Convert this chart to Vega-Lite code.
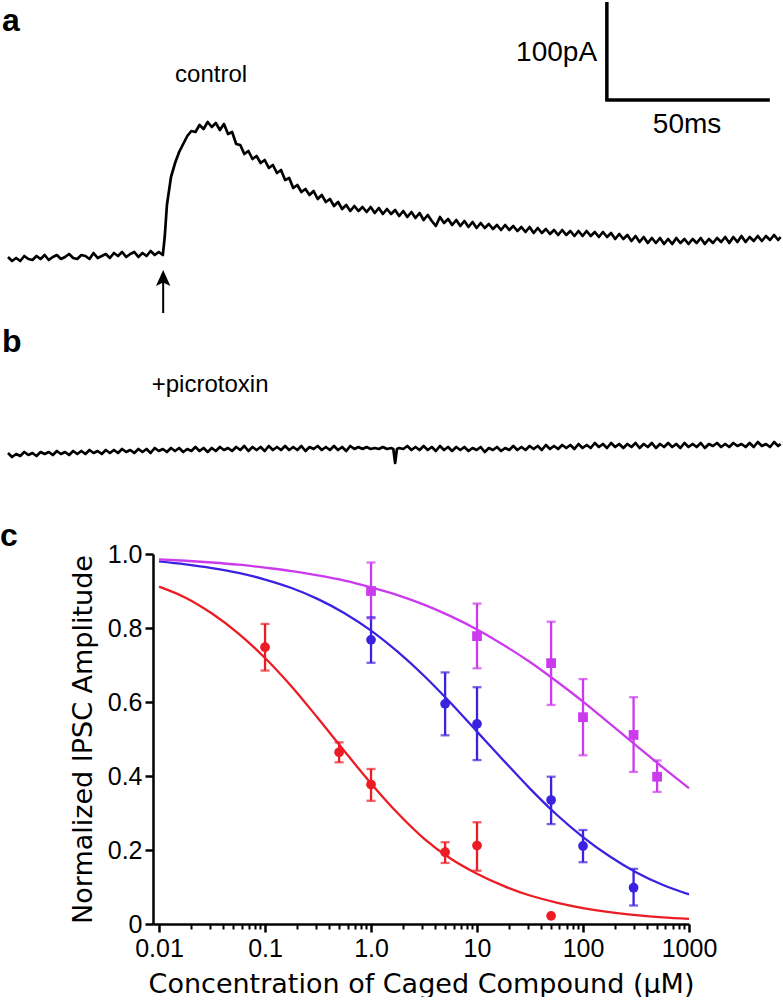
{
  "$schema": "https://vega.github.io/schema/vega-lite/v6.json",
  "padding": 0,
  "spacing": 0,
  "columns": 1,
  "config": {"view": {"stroke": null}, "font": "Liberation Sans", "text": {"font": "Liberation Sans", "color": "black"}},
  "datasets": {
    "traceA": [{"t":0,"v":1},{"t":1.25,"v":-3},{"t":2.5,"v":0},{"t":3.75,"v":-3},{"t":5,"v":2},{"t":6.25,"v":-1},{"t":7.5,"v":-2},{"t":8.75,"v":2},{"t":10,"v":-1},{"t":11.25,"v":3},{"t":12.5,"v":-2},{"t":13.75,"v":1},{"t":15,"v":3},{"t":16.25,"v":-1},{"t":17.5,"v":1},{"t":18.75,"v":4},{"t":20,"v":0},{"t":21.25,"v":-1},{"t":22.5,"v":3},{"t":23.75,"v":2},{"t":25,"v":-1},{"t":26.25,"v":5},{"t":27.5,"v":0},{"t":28.75,"v":2},{"t":30,"v":4},{"t":31.25,"v":0},{"t":32.5,"v":5},{"t":33.75,"v":2},{"t":35,"v":6},{"t":36.25,"v":1},{"t":37.5,"v":4},{"t":38.75,"v":6},{"t":40,"v":1},{"t":41.25,"v":5},{"t":42.5,"v":2},{"t":43.75,"v":7},{"t":45,"v":3},{"t":46.25,"v":6},{"t":47.5,"v":3},{"t":48.1,"v":22},{"t":48.75,"v":53},{"t":50,"v":81},{"t":51.25,"v":95},{"t":52.5,"v":106},{"t":53.75,"v":114},{"t":55,"v":122},{"t":56.25,"v":127},{"t":57.5,"v":126},{"t":58.75,"v":133},{"t":60,"v":129},{"t":61.25,"v":136},{"t":62.5,"v":131},{"t":63.75,"v":135},{"t":65,"v":128},{"t":66.25,"v":134},{"t":67.5,"v":124},{"t":68.75,"v":126},{"t":70,"v":114},{"t":71.25,"v":113},{"t":72.5,"v":104},{"t":73.75,"v":107},{"t":75,"v":99},{"t":76.25,"v":102},{"t":77.5,"v":95},{"t":78.75,"v":98},{"t":80,"v":90},{"t":81.25,"v":93},{"t":82.5,"v":85},{"t":83.75,"v":88},{"t":85,"v":78},{"t":86.25,"v":80},{"t":87.5,"v":70},{"t":88.75,"v":73},{"t":90,"v":66},{"t":91.25,"v":69},{"t":92.5,"v":63},{"t":93.75,"v":67},{"t":95,"v":59},{"t":96.25,"v":63},{"t":97.5,"v":56},{"t":98.75,"v":59},{"t":100,"v":52},{"t":101.25,"v":56},{"t":102.5,"v":49},{"t":103.75,"v":53},{"t":105,"v":47},{"t":106.25,"v":52},{"t":107.5,"v":47},{"t":108.75,"v":51},{"t":110,"v":46},{"t":111.25,"v":51},{"t":112.5,"v":45},{"t":113.75,"v":50},{"t":115,"v":44},{"t":116.25,"v":49},{"t":117.5,"v":44},{"t":118.75,"v":48},{"t":120,"v":42},{"t":121.25,"v":47},{"t":122.5,"v":41},{"t":123.75,"v":46},{"t":125,"v":40},{"t":126.25,"v":45},{"t":127.5,"v":38},{"t":128.75,"v":43},{"t":130,"v":37},{"t":131.25,"v":32},{"t":132.5,"v":41},{"t":133.75,"v":35},{"t":135,"v":39},{"t":136.25,"v":33},{"t":137.5,"v":38},{"t":138.75,"v":32},{"t":140,"v":37},{"t":141.25,"v":31},{"t":142.5,"v":36},{"t":143.75,"v":30},{"t":145,"v":35},{"t":146.25,"v":30},{"t":147.5,"v":34},{"t":148.75,"v":29},{"t":150,"v":33},{"t":151.25,"v":28},{"t":152.5,"v":33},{"t":153.75,"v":28},{"t":155,"v":32},{"t":156.25,"v":27},{"t":157.5,"v":31},{"t":158.75,"v":26},{"t":160,"v":31},{"t":161.25,"v":25},{"t":162.5,"v":30},{"t":163.75,"v":25},{"t":165,"v":29},{"t":166.25,"v":24},{"t":167.5,"v":28},{"t":168.75,"v":23},{"t":170,"v":28},{"t":171.25,"v":23},{"t":172.5,"v":27},{"t":173.75,"v":22},{"t":175,"v":27},{"t":176.25,"v":22},{"t":177.5,"v":27},{"t":178.75,"v":22},{"t":180,"v":26},{"t":181.25,"v":21},{"t":182.5,"v":26},{"t":183.75,"v":21},{"t":185,"v":25},{"t":186.25,"v":19},{"t":187.5,"v":24},{"t":188.75,"v":19},{"t":190,"v":23},{"t":191.25,"v":17},{"t":192.5,"v":22},{"t":193.75,"v":16},{"t":195,"v":21},{"t":196.25,"v":15},{"t":197.5,"v":20},{"t":198.75,"v":15},{"t":200,"v":20},{"t":201.25,"v":14},{"t":202.5,"v":19},{"t":203.75,"v":14},{"t":205,"v":20},{"t":206.25,"v":15},{"t":207.5,"v":19},{"t":208.75,"v":14},{"t":210,"v":19},{"t":211.25,"v":15},{"t":212.5,"v":20},{"t":213.75,"v":14},{"t":215,"v":19},{"t":216.25,"v":15},{"t":217.5,"v":20},{"t":218.75,"v":16},{"t":220,"v":21},{"t":221.25,"v":15},{"t":222.5,"v":21},{"t":223.75,"v":16},{"t":225,"v":22},{"t":226.25,"v":16},{"t":227.5,"v":21},{"t":228.75,"v":17},{"t":230,"v":22},{"t":231.25,"v":17},{"t":232.5,"v":22},{"t":233.75,"v":18},{"t":235,"v":23},{"t":236.25,"v":18},{"t":237,"v":21}],
    "traceB": [{"t":0,"v":-1},{"t":1.25,"v":-5},{"t":2.5,"v":-2},{"t":3.75,"v":-4},{"t":5,"v":0},{"t":6.25,"v":-3},{"t":7.5,"v":-1},{"t":8.75,"v":-4},{"t":10,"v":0},{"t":11.25,"v":-2},{"t":12.5,"v":0},{"t":13.75,"v":-3},{"t":15,"v":1},{"t":16.25,"v":-2},{"t":17.5,"v":0},{"t":18.75,"v":-3},{"t":20,"v":1},{"t":21.25,"v":-2},{"t":22.5,"v":1},{"t":23.75,"v":-2},{"t":25,"v":2},{"t":26.25,"v":-1},{"t":27.5,"v":1},{"t":28.75,"v":-2},{"t":30,"v":2},{"t":31.25,"v":-1},{"t":32.5,"v":2},{"t":33.75,"v":-1},{"t":35,"v":3},{"t":36.25,"v":0},{"t":37.5,"v":2},{"t":38.75,"v":-1},{"t":40,"v":3},{"t":41.25,"v":0},{"t":42.5,"v":3},{"t":43.75,"v":-1},{"t":45,"v":4},{"t":46.25,"v":1},{"t":47.5,"v":3},{"t":48.75,"v":0},{"t":50,"v":4},{"t":51.25,"v":1},{"t":52.5,"v":4},{"t":53.75,"v":0},{"t":55,"v":3},{"t":56.25,"v":1},{"t":57.5,"v":5},{"t":58.75,"v":1},{"t":60,"v":4},{"t":61.25,"v":0},{"t":62.5,"v":4},{"t":63.75,"v":1},{"t":65,"v":5},{"t":66.25,"v":2},{"t":67.5,"v":4},{"t":68.75,"v":1},{"t":70,"v":5},{"t":71.25,"v":2},{"t":72.5,"v":6},{"t":73.75,"v":1},{"t":75,"v":5},{"t":76.25,"v":2},{"t":77.5,"v":5},{"t":78.75,"v":1},{"t":80,"v":6},{"t":81.25,"v":2},{"t":82.5,"v":5},{"t":83.75,"v":2},{"t":85,"v":6},{"t":86.25,"v":2},{"t":87.5,"v":5},{"t":88.75,"v":2},{"t":90,"v":6},{"t":91.25,"v":1},{"t":92.5,"v":5},{"t":93.75,"v":3},{"t":95,"v":6},{"t":96.25,"v":2},{"t":97.5,"v":5},{"t":98.75,"v":2},{"t":100,"v":6},{"t":101.25,"v":2},{"t":102.5,"v":5},{"t":103.75,"v":1},{"t":105,"v":6},{"t":106.25,"v":3},{"t":107.5,"v":5},{"t":108.75,"v":3},{"t":110,"v":5},{"t":111.25,"v":3},{"t":112.5,"v":4},{"t":113.75,"v":3},{"t":115,"v":5},{"t":116.25,"v":3},{"t":117.5,"v":4},{"t":118.2,"v":3},{"t":118.75,"v":-11},{"t":119.3,"v":3},{"t":120,"v":4},{"t":121.25,"v":3},{"t":122.5,"v":6},{"t":123.75,"v":2},{"t":125,"v":5},{"t":126.25,"v":2},{"t":127.5,"v":6},{"t":128.75,"v":2},{"t":130,"v":5},{"t":131.25,"v":1},{"t":132.5,"v":6},{"t":133.75,"v":2},{"t":135,"v":5},{"t":136.25,"v":1},{"t":137.5,"v":5},{"t":138.75,"v":2},{"t":140,"v":5},{"t":141.25,"v":1},{"t":142.5,"v":4},{"t":143.75,"v":2},{"t":145,"v":5},{"t":146.25,"v":0},{"t":147.5,"v":4},{"t":148.75,"v":2},{"t":150,"v":5},{"t":151.25,"v":1},{"t":152.5,"v":4},{"t":153.75,"v":2},{"t":155,"v":6},{"t":156.25,"v":2},{"t":157.5,"v":5},{"t":158.75,"v":2},{"t":160,"v":6},{"t":161.25,"v":3},{"t":162.5,"v":6},{"t":163.75,"v":2},{"t":165,"v":7},{"t":166.25,"v":3},{"t":167.5,"v":6},{"t":168.75,"v":3},{"t":170,"v":7},{"t":171.25,"v":4},{"t":172.5,"v":7},{"t":173.75,"v":3},{"t":175,"v":8},{"t":176.25,"v":4},{"t":177.5,"v":7},{"t":178.75,"v":4},{"t":180,"v":9},{"t":181.25,"v":5},{"t":182.5,"v":8},{"t":183.75,"v":4},{"t":185,"v":9},{"t":186.25,"v":5},{"t":187.5,"v":8},{"t":188.75,"v":4},{"t":190,"v":8},{"t":191.25,"v":5},{"t":192.5,"v":9},{"t":193.75,"v":4},{"t":195,"v":8},{"t":196.25,"v":5},{"t":197.5,"v":9},{"t":198.75,"v":4},{"t":200,"v":8},{"t":201.25,"v":5},{"t":202.5,"v":9},{"t":203.75,"v":5},{"t":205,"v":8},{"t":206.25,"v":4},{"t":207.5,"v":9},{"t":208.75,"v":5},{"t":210,"v":8},{"t":211.25,"v":5},{"t":212.5,"v":9},{"t":213.75,"v":4},{"t":215,"v":8},{"t":216.25,"v":6},{"t":217.5,"v":9},{"t":218.75,"v":5},{"t":220,"v":8},{"t":221.25,"v":5},{"t":222.5,"v":9},{"t":223.75,"v":6},{"t":225,"v":8},{"t":226.25,"v":5},{"t":227.5,"v":9},{"t":228.75,"v":5},{"t":230,"v":10},{"t":231.25,"v":6},{"t":232.5,"v":8},{"t":233.75,"v":5},{"t":235,"v":10},{"t":236.25,"v":6},{"t":237,"v":8}],
    "curves": [
      {"s":"red","conc":0.01,"val":0.912},{"s":"red","conc":0.0178,"val":0.882},{"s":"red","conc":0.0316,"val":0.839},{"s":"red","conc":0.0562,"val":0.785},{"s":"red","conc":0.1,"val":0.719},{"s":"red","conc":0.178,"val":0.642},{"s":"red","conc":0.316,"val":0.556},{"s":"red","conc":0.562,"val":0.467},{"s":"red","conc":1,"val":0.38},{"s":"red","conc":1.78,"val":0.3},{"s":"red","conc":3.16,"val":0.231},{"s":"red","conc":5.62,"val":0.177},{"s":"red","conc":10,"val":0.136},{"s":"red","conc":17.8,"val":0.103},{"s":"red","conc":31.6,"val":0.077},{"s":"red","conc":56.2,"val":0.058},{"s":"red","conc":100,"val":0.043},{"s":"red","conc":178,"val":0.032},{"s":"red","conc":316,"val":0.024},{"s":"red","conc":562,"val":0.018},{"s":"red","conc":1000,"val":0.014},
      {"s":"blue","conc":0.01,"val":0.98},{"s":"blue","conc":0.0178,"val":0.972},{"s":"blue","conc":0.0316,"val":0.962},{"s":"blue","conc":0.0562,"val":0.949},{"s":"blue","conc":0.1,"val":0.931},{"s":"blue","conc":0.178,"val":0.908},{"s":"blue","conc":0.316,"val":0.878},{"s":"blue","conc":0.562,"val":0.84},{"s":"blue","conc":1,"val":0.793},{"s":"blue","conc":1.78,"val":0.736},{"s":"blue","conc":3.16,"val":0.671},{"s":"blue","conc":5.62,"val":0.598},{"s":"blue","conc":10,"val":0.52},{"s":"blue","conc":17.8,"val":0.442},{"s":"blue","conc":31.6,"val":0.366},{"s":"blue","conc":56.2,"val":0.296},{"s":"blue","conc":100,"val":0.235},{"s":"blue","conc":178,"val":0.183},{"s":"blue","conc":316,"val":0.14},{"s":"blue","conc":562,"val":0.106},{"s":"blue","conc":1000,"val":0.08},
      {"s":"mag","conc":0.01,"val":0.9855},{"s":"mag","conc":0.0178,"val":0.9817},{"s":"mag","conc":0.0316,"val":0.977},{"s":"mag","conc":0.0562,"val":0.971},{"s":"mag","conc":0.1,"val":0.963},{"s":"mag","conc":0.178,"val":0.954},{"s":"mag","conc":0.316,"val":0.942},{"s":"mag","conc":0.562,"val":0.928},{"s":"mag","conc":1,"val":0.91},{"s":"mag","conc":1.78,"val":0.889},{"s":"mag","conc":3.16,"val":0.863},{"s":"mag","conc":5.62,"val":0.832},{"s":"mag","conc":10,"val":0.796},{"s":"mag","conc":17.8,"val":0.754},{"s":"mag","conc":31.6,"val":0.708},{"s":"mag","conc":56.2,"val":0.656},{"s":"mag","conc":100,"val":0.601},{"s":"mag","conc":178,"val":0.542},{"s":"mag","conc":316,"val":0.483},{"s":"mag","conc":562,"val":0.424},{"s":"mag","conc":1000,"val":0.367}
    ],
    "pts": [
      {"s":"red","conc":0.1,"val":0.748,"lo":0.685,"hi":0.811},
      {"s":"red","conc":0.5,"val":0.464,"lo":0.437,"hi":0.491},
      {"s":"red","conc":1,"val":0.377,"lo":0.333,"hi":0.419},
      {"s":"red","conc":5,"val":0.194,"lo":0.165,"hi":0.221},
      {"s":"red","conc":10,"val":0.212,"lo":0.144,"hi":0.275},
      {"s":"red","conc":50,"val":0.022,"lo":null,"hi":null},
      {"s":"blue","conc":1,"val":0.768,"lo":0.706,"hi":0.829},
      {"s":"blue","conc":5,"val":0.595,"lo":0.51,"hi":0.68},
      {"s":"blue","conc":10,"val":0.541,"lo":0.443,"hi":0.64},
      {"s":"blue","conc":50,"val":0.335,"lo":0.27,"hi":0.398},
      {"s":"blue","conc":100,"val":0.211,"lo":0.167,"hi":0.254},
      {"s":"blue","conc":300,"val":0.098,"lo":0.05,"hi":0.149},
      {"s":"mag","conc":1,"val":0.9,"lo":0.826,"hi":0.977},
      {"s":"mag","conc":10,"val":0.778,"lo":0.691,"hi":0.866},
      {"s":"mag","conc":50,"val":0.705,"lo":0.592,"hi":0.817},
      {"s":"mag","conc":100,"val":0.559,"lo":0.456,"hi":0.662},
      {"s":"mag","conc":300,"val":0.511,"lo":0.411,"hi":0.613},
      {"s":"mag","conc":500,"val":0.398,"lo":0.357,"hi":0.442}
    ]
  },
  "concat": [
    {
      "width": 630,
      "height": 320,
      "encoding": {
        "x": {"field": "t", "type": "quantitative", "scale": {"domain": [44.48, 237.73], "nice": false, "zero": false}, "axis": null},
        "y": {"field": "v", "type": "quantitative", "scale": {"domain": [-62, 258], "nice": false, "zero": false}, "axis": null}
      },
      "layer": [
        {"data": {"name": "traceA"}, "mark": {"type": "line", "color": "black", "strokeWidth": 2.7, "strokeJoin": "round"}},
        {"data": {"values": [{"t": 183.7, "v": 256, "v2": 158}]}, "mark": {"type": "rule", "color": "black", "strokeWidth": 3.5, "strokeCap": "butt"}, "encoding": {"y2": {"field": "v2"}}},
        {"data": {"values": [{"t": 183.2, "t2": 233.7, "v": 158}]}, "mark": {"type": "rule", "color": "black", "strokeWidth": 3.5, "strokeCap": "butt"}, "encoding": {"x2": {"field": "t2"}}},
        {"data": {"values": [{"t": 47.6, "v": -55, "v2": -18}]}, "mark": {"type": "rule", "color": "black", "strokeWidth": 2}, "encoding": {"y2": {"field": "v2"}}},
        {"data": {"values": [{"t": 47.6, "v": -20}]}, "mark": {"type": "point", "shape": "M0,-1L0.9,1L0,0.55L-0.9,1Z", "filled": true, "color": "black", "opacity": 1, "size": 256, "strokeWidth": 0}},
        {"data": {"values": [{"t": -1.84, "v": 227, "txt": "a"}]}, "mark": {"type": "text", "fontWeight": "bold", "fontSize": 32, "align": "left", "baseline": "alphabetic"}, "encoding": {"text": {"field": "txt"}}},
        {"data": {"values": [{"t": 62.3, "v": 183, "txt": "control"}]}, "mark": {"type": "text", "fontSize": 24, "align": "center", "baseline": "middle"}, "encoding": {"text": {"field": "txt"}}},
        {"data": {"values": [{"t": 208.3, "v": 133, "txt": "50ms"}]}, "mark": {"type": "text", "fontSize": 28, "align": "center", "baseline": "middle"}, "encoding": {"text": {"field": "txt"}}},
        {"data": {"values": [{"t": 180.7, "v": 205, "txt": "100pA"}]}, "mark": {"type": "text", "fontSize": 28, "align": "right", "baseline": "middle"}, "encoding": {"text": {"field": "txt"}}}
      ]
    },
    {
      "width": 630,
      "height": 200,
      "encoding": {
        "x": {"field": "t", "type": "quantitative", "scale": {"domain": [44.48, 237.73], "nice": false, "zero": false}, "axis": null},
        "y": {"field": "v", "type": "quantitative", "scale": {"domain": [-68, 132], "nice": false, "zero": false}, "axis": null}
      },
      "layer": [
        {"data": {"name": "traceB"}, "mark": {"type": "line", "color": "black", "strokeWidth": 2.7, "strokeJoin": "round"}},
        {"data": {"values": [{"t": -1.84, "v": 100, "txt": "b"}]}, "mark": {"type": "text", "fontWeight": "bold", "fontSize": 32, "align": "left", "baseline": "alphabetic"}, "encoding": {"text": {"field": "txt"}}},
        {"data": {"values": [{"t": 62, "v": 67, "txt": "+picrotoxin"}]}, "mark": {"type": "text", "fontSize": 24, "align": "center", "baseline": "middle"}, "encoding": {"text": {"field": "txt"}}}
      ]
    },
    {
      "width": 536,
      "height": 370,
      "resolve": {"axis": {"x": "independent"}},
      "layer": [
        {
          "data": {"name": "curves"},
          "mark": {"type": "line", "strokeWidth": 2.3, "interpolate": "monotone"},
          "encoding": {
            "x": {"field": "conc", "type": "quantitative", "scale": {"type": "log", "domain": [0.00877, 1000], "nice": false},
                  "axis": {"values": [0.01, 0.1, 1, 10, 100, 1000], "labelExpr": "datum.value < 0.05 ? '0.01' : datum.value < 0.5 ? '0.1' : datum.value < 5 ? '1.0' : format(datum.value, 'd')",
                           "labelFont": "Liberation Sans", "labelFontSize": 25, "labelColor": "black", "labelPadding": 4, "labelFlush": false, "labelOverlap": false,
                           "tickSize": 8, "tickWidth": 2.5, "tickColor": "black", "domainColor": "black", "domainWidth": 2.5, "grid": false,
                           "title": "Concentration of Caged Compound (μM)", "titleFont": "DejaVu Sans", "titleFontSize": 27, "titleFontWeight": "normal", "titleColor": "black", "titlePadding": 10}},
            "y": {"field": "val", "type": "quantitative", "scale": {"domain": [0, 1], "nice": false, "zero": false},
                  "axis": {"values": [0, 0.2, 0.4, 0.6, 0.8, 1], "labelExpr": "datum.value == 0 ? '0' : format(datum.value, '.1f')", "labelFont": "Liberation Sans", "labelFontSize": 25, "labelColor": "black", "labelPadding": 3, "labelFlush": false, "labelOverlap": false, "tickSize": 8, "tickWidth": 2.5, "tickColor": "black", "domainColor": "black", "domainWidth": 2.5, "grid": false, "title": "Normalized IPSC Amplitude", "titleFont": "DejaVu Sans", "titleFontSize": 27, "titleFontWeight": "normal", "titleColor": "black", "titlePadding": 10}},
            "color": {"field": "s", "type": "nominal", "scale": {"domain": ["red", "blue", "mag"], "range": ["#EC1C24", "#3A22E0", "#CC3AEE"]}, "legend": null}
          }
        },
        {
          "data": {"name": "pts"},
          "transform": [{"filter": "datum.lo != null"}],
          "mark": {"type": "rule", "strokeWidth": 2.3},
          "encoding": {
            "x": {"field": "conc", "type": "quantitative", "scale": {"type": "log", "domain": [0.00877, 1000], "nice": false},
                  "axis": {"orient": "bottom", "values": [0.02,0.03,0.04,0.05,0.06,0.07,0.08,0.09,0.2,0.3,0.4,0.5,0.6,0.7,0.8,0.9,2,3,4,5,6,7,8,9,20,30,40,50,60,70,80,90,200,300,400,500,600,700,800,900],
                           "labels": false, "domain": false, "tickSize": 5, "tickWidth": 2, "tickColor": "black", "grid": false, "title": null}},
            "y": {"field": "lo", "type": "quantitative", "scale": {"domain": [0, 1], "nice": false, "zero": false},
                  "axis": {"values": [0, 0.2, 0.4, 0.6, 0.8, 1], "labelExpr": "datum.value == 0 ? '0' : format(datum.value, '.1f')", "labelFont": "Liberation Sans", "labelFontSize": 25, "labelColor": "black", "labelPadding": 3, "labelFlush": false, "labelOverlap": false, "tickSize": 8, "tickWidth": 2.5, "tickColor": "black", "domainColor": "black", "domainWidth": 2.5, "grid": false, "title": "Normalized IPSC Amplitude", "titleFont": "DejaVu Sans", "titleFontSize": 27, "titleFontWeight": "normal", "titleColor": "black", "titlePadding": 10}},
            "y2": {"field": "hi"},
            "color": {"field": "s", "type": "nominal", "scale": {"domain": ["red", "blue", "mag"], "range": ["#EC1C24", "#3A22E0", "#CC3AEE"]}, "legend": null}
          }
        },
        {
          "data": {"name": "pts"},
          "transform": [{"filter": "datum.lo != null"}],
          "mark": {"type": "tick", "orient": "horizontal", "size": 9, "thickness": 2.3},
          "encoding": {
            "x": {"field": "conc", "type": "quantitative", "scale": {"type": "log", "domain": [0.00877, 1000], "nice": false}, "axis": null},
            "y": {"field": "lo", "type": "quantitative", "scale": {"domain": [0, 1], "nice": false, "zero": false},
                  "axis": {"values": [0, 0.2, 0.4, 0.6, 0.8, 1], "labelExpr": "datum.value == 0 ? '0' : format(datum.value, '.1f')", "labelFont": "Liberation Sans", "labelFontSize": 25, "labelColor": "black", "labelPadding": 3, "labelFlush": false, "labelOverlap": false, "tickSize": 8, "tickWidth": 2.5, "tickColor": "black", "domainColor": "black", "domainWidth": 2.5, "grid": false, "title": "Normalized IPSC Amplitude", "titleFont": "DejaVu Sans", "titleFontSize": 27, "titleFontWeight": "normal", "titleColor": "black", "titlePadding": 10}},
            "color": {"field": "s", "type": "nominal", "scale": {"domain": ["red", "blue", "mag"], "range": ["#EC1C24", "#3A22E0", "#CC3AEE"]}, "legend": null}
          }
        },
        {
          "data": {"name": "pts"},
          "transform": [{"filter": "datum.hi != null"}],
          "mark": {"type": "tick", "orient": "horizontal", "size": 9, "thickness": 2.3},
          "encoding": {
            "x": {"field": "conc", "type": "quantitative", "scale": {"type": "log", "domain": [0.00877, 1000], "nice": false}, "axis": null},
            "y": {"field": "hi", "type": "quantitative", "scale": {"domain": [0, 1], "nice": false, "zero": false},
                  "axis": {"values": [0, 0.2, 0.4, 0.6, 0.8, 1], "labelExpr": "datum.value == 0 ? '0' : format(datum.value, '.1f')", "labelFont": "Liberation Sans", "labelFontSize": 25, "labelColor": "black", "labelPadding": 3, "labelFlush": false, "labelOverlap": false, "tickSize": 8, "tickWidth": 2.5, "tickColor": "black", "domainColor": "black", "domainWidth": 2.5, "grid": false, "title": "Normalized IPSC Amplitude", "titleFont": "DejaVu Sans", "titleFontSize": 27, "titleFontWeight": "normal", "titleColor": "black", "titlePadding": 10}},
            "color": {"field": "s", "type": "nominal", "scale": {"domain": ["red", "blue", "mag"], "range": ["#EC1C24", "#3A22E0", "#CC3AEE"]}, "legend": null}
          }
        },
        {
          "data": {"name": "pts"},
          "mark": {"type": "point", "filled": true, "opacity": 1, "size": 95},
          "encoding": {
            "x": {"field": "conc", "type": "quantitative", "scale": {"type": "log", "domain": [0.00877, 1000], "nice": false}, "axis": null},
            "y": {"field": "val", "type": "quantitative", "scale": {"domain": [0, 1], "nice": false, "zero": false},
                  "axis": {"values": [0, 0.2, 0.4, 0.6, 0.8, 1], "labelExpr": "datum.value == 0 ? '0' : format(datum.value, '.1f')", "labelFont": "Liberation Sans", "labelFontSize": 25, "labelColor": "black", "labelPadding": 3, "labelFlush": false, "labelOverlap": false, "tickSize": 8, "tickWidth": 2.5, "tickColor": "black", "domainColor": "black", "domainWidth": 2.5, "grid": false, "title": "Normalized IPSC Amplitude", "titleFont": "DejaVu Sans", "titleFontSize": 27, "titleFontWeight": "normal", "titleColor": "black", "titlePadding": 10}},
            "color": {"field": "s", "type": "nominal", "scale": {"domain": ["red", "blue", "mag"], "range": ["#EC1C24", "#3A22E0", "#CC3AEE"]}, "legend": null},
            "shape": {"field": "s", "type": "nominal", "scale": {"domain": ["red", "blue", "mag"], "range": ["circle", "circle", "square"]}, "legend": null}
          }
        },
        {
          "data": {"values": [{"conc": 0.000316, "val": 1.089, "txt": "c"}]},
          "mark": {"type": "text", "fontWeight": "bold", "fontSize": 32, "align": "left", "baseline": "top", "color": "black"},
          "encoding": {
            "x": {"field": "conc", "type": "quantitative", "scale": {"type": "log", "domain": [0.00877, 1000], "nice": false}, "axis": null},
            "y": {"field": "val", "type": "quantitative", "scale": {"domain": [0, 1], "nice": false, "zero": false},
                  "axis": {"values": [0, 0.2, 0.4, 0.6, 0.8, 1], "labelExpr": "datum.value == 0 ? '0' : format(datum.value, '.1f')", "labelFont": "Liberation Sans", "labelFontSize": 25, "labelColor": "black", "labelPadding": 3, "labelFlush": false, "labelOverlap": false, "tickSize": 8, "tickWidth": 2.5, "tickColor": "black", "domainColor": "black", "domainWidth": 2.5, "grid": false, "title": "Normalized IPSC Amplitude", "titleFont": "DejaVu Sans", "titleFontSize": 27, "titleFontWeight": "normal", "titleColor": "black", "titlePadding": 10}},
            "text": {"field": "txt"}
          }
        }
      ]
    }
  ]
}
